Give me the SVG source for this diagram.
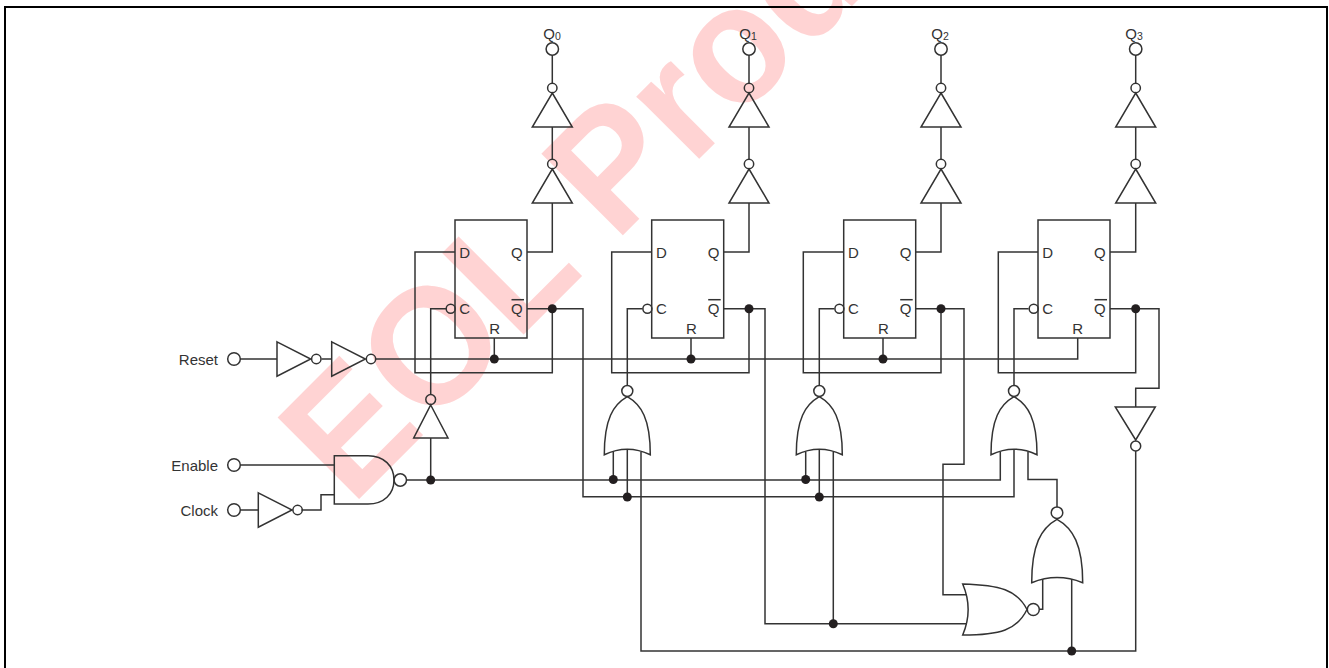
<svg xmlns="http://www.w3.org/2000/svg" xmlns:xlink="http://www.w3.org/1999/xlink" width="1329" height="668" viewBox="0 0 1329 668">
<style>
.w{fill:none;stroke:#333;stroke-width:1.5}
.g{fill:none;stroke:#333;stroke-width:1.5;stroke-linejoin:miter}
.j{fill:#231f20;stroke:none}
.t{font-family:"Liberation Sans",Arial,sans-serif;font-size:15px;fill:#333}
.s{font-size:10.5px}
.wm{font-family:"Liberation Sans",Arial,sans-serif;font-weight:bold;font-size:161px;fill:#ffd3d3}
</style>
<defs>
<g id="ff">
<rect class="g" x="455" y="220" width="72" height="118"/>
<circle class="g" cx="450.7" cy="308.7" r="4.5"/>
<line class="g" x1="511.5" y1="299.7" x2="524" y2="299.7"/>
<text class="t" x="459.3" y="258">D</text>
<text class="t" x="511" y="258">Q</text>
<text class="t" x="459.3" y="314">C</text>
<text class="t" x="511" y="314">Q</text>
<text class="t" x="489.3" y="334">R</text>
</g>
<g id="invup">
<path class="g" d="M0,5 L20,39 H-20 Z"/>
<circle class="g" cx="0" cy="0" r="4.7"/>
</g>
<path id="nor" class="g" d="M0,0 C-14,8 -23,22 -23,58 Q0,47 23,58 C23,22 14,8 0,0 Z"/>
<g id="invright">
<path class="g" d="M0,-17.2 L33.7,0 L0,17.2 Z"/>
<circle class="g" cx="39.3" cy="0" r="4.7"/>
</g>
</defs>

<g id="watermark"><text class="wm" transform="translate(351.6 506.4) rotate(-45) scale(1 1.04)">EOL Product</text></g>

<rect id="frame" x="5" y="7" width="1322" height="670" fill="none" stroke="#000" stroke-width="2"/>

<g id="connectors">
<path class="w" d="M240,359 H277 M321.5,359 H332 M375.5,359 H1077.7 V338"/>
<path class="w" d="M494.3,338 V359 M691,338 V359 M883,338 V359"/>
<path class="w" d="M240.5,465 H334.3 M240.5,510 H258.3 M301.5,510 H321 V494.7 H334.3"/>
<path class="w" d="M406.5,480 H1000.3 V452 M430.7,438 V480 M430.7,394.8 V308.7 H446"/>
<path class="w" d="M627.3,386 V308.7 H642.6 M819.3,386 V308.7 H834.3 M1014,386 V308.7 H1028.6"/>
<path class="w" d="M455,252 H415 V372.7 H552.3 V308.7 M527,252 H552.3 V203 M527,308.7 H583 V496.7 H1014 V450"/>
<path class="w" d="M651.7,252 H611.7 V372.7 H749 V308.7 M723.7,252 H749 V203 M723.7,308.7 H765 V623.7 H967"/>
<path class="w" d="M843.7,252 H803.3 V372.7 H941 V308.7 M915.7,252 H941 V203 M915.7,308.7 H964 V464.3 H943 V594.7 H967"/>
<path class="w" d="M1038,252 H998.3 V372.7 H1135.7 V308.7 M1110,252 H1135.7 V203 M1110,308.7 H1159 V388.3 H1135.7 V407 M1135.7,451 V651 H641 V452"/>
<path class="w" d="M613.3,479.5 V452 M627.3,497 V450 M805.7,479.5 V452 M819.3,497 V450 M833.3,452 V623.7"/>
<path class="w" d="M1028,452 V479.5 H1057 V507 M1042.7,579 V609.3 H1039.3 M1071.7,579 V651"/>
<path class="w" d="M552.3,55 V83.3 M552.3,127 V159.3 M749,55 V83.3 M749,127 V159.3 M941,55 V83.3 M941,127 V159.3 M1135.7,55 V83.3 M1135.7,127 V159.3"/>
<g>
<circle class="j" cx="494.3" cy="359" r="4.5"/><circle class="j" cx="691" cy="359" r="4.5"/><circle class="j" cx="883" cy="359" r="4.5"/>
<circle class="j" cx="552.3" cy="308.7" r="4.5"/><circle class="j" cx="749" cy="308.7" r="4.5"/><circle class="j" cx="941" cy="308.7" r="4.5"/><circle class="j" cx="1135.7" cy="308.7" r="4.5"/>
<circle class="j" cx="430.7" cy="480" r="4.5"/><circle class="j" cx="613.3" cy="479.5" r="4.5"/><circle class="j" cx="805.7" cy="479.5" r="4.5"/>
<circle class="j" cx="627.3" cy="497" r="4.5"/><circle class="j" cx="819.3" cy="497" r="4.5"/>
<circle class="j" cx="833.3" cy="623.7" r="4.5"/><circle class="j" cx="1071.7" cy="651" r="4.5"/>
</g>
</g>

<g id="in-reset"><text class="t" x="218" y="364.5" text-anchor="end">Reset</text><circle class="g" cx="234" cy="359" r="6.3"/></g>
<g id="in-enable"><text class="t" x="218" y="470.5" text-anchor="end">Enable</text><circle class="g" cx="234" cy="465" r="6.3"/></g>
<g id="in-clock"><text class="t" x="218" y="515.5" text-anchor="end">Clock</text><circle class="g" cx="234" cy="510" r="6.3"/></g>
<g id="inv-reset1"><use xlink:href="#invright" x="277" y="359"/></g>
<g id="inv-reset2"><use xlink:href="#invright" x="331.7" y="359"/></g>
<g id="inv-clock"><use xlink:href="#invright" x="258.3" y="510"/></g>
<g id="inv-c"><path class="g" d="M430.7,405 L448,438 H413.7 Z"/><circle class="g" cx="430.7" cy="399.5" r="4.9"/></g>
<g id="nand"><path class="g" d="M334.3,455.7 H368 C384,455.7 394,466 394,480 C394,494 384,504 368,504 H334.3 Z"/><circle class="g" cx="400.3" cy="480" r="6.2"/></g>

<g id="ff0"><use xlink:href="#ff"/></g>
<g id="ff1"><use xlink:href="#ff" x="196.7"/></g>
<g id="ff2"><use xlink:href="#ff" x="388.7"/></g>
<g id="ff3"><use xlink:href="#ff" x="583"/></g>

<g id="q0-out"><text class="t" x="543.3" y="38.5">Q<tspan class="s" dy="1.5">0</tspan></text><circle class="g" cx="552.3" cy="49" r="6.2"/></g>
<g id="q1-out"><text class="t" x="739.3" y="38.5">Q<tspan class="s" dy="1.5">1</tspan></text><circle class="g" cx="749" cy="49" r="6.2"/></g>
<g id="q2-out"><text class="t" x="931.3" y="38.5">Q<tspan class="s" dy="1.5">2</tspan></text><circle class="g" cx="941" cy="49" r="6.2"/></g>
<g id="q3-out"><text class="t" x="1125.3" y="38.5">Q<tspan class="s" dy="1.5">3</tspan></text><circle class="g" cx="1135.7" cy="49" r="6.2"/></g>
<g id="inv-q0a"><use xlink:href="#invup" x="552.3" y="88"/></g>
<g id="inv-q0b"><use xlink:href="#invup" x="552.3" y="164"/></g>
<g id="inv-q1a"><use xlink:href="#invup" x="749" y="88"/></g>
<g id="inv-q1b"><use xlink:href="#invup" x="749" y="164"/></g>
<g id="inv-q2a"><use xlink:href="#invup" x="941" y="88"/></g>
<g id="inv-q2b"><use xlink:href="#invup" x="941" y="164"/></g>
<g id="inv-q3a"><use xlink:href="#invup" x="1135.7" y="88"/></g>
<g id="inv-q3b"><use xlink:href="#invup" x="1135.7" y="164"/></g>
<g id="inv-fb"><path class="g" d="M1115.3,407 H1155.3 L1135.7,440 Z"/><circle class="g" cx="1135.7" cy="446" r="5"/></g>

<g id="nor0"><use xlink:href="#nor" x="627.3" y="396.7"/><circle class="g" cx="627.3" cy="391" r="5.5"/></g>
<g id="nor1"><use xlink:href="#nor" x="819.3" y="396.7"/><circle class="g" cx="819.3" cy="391" r="5.5"/></g>
<g id="nor2"><use xlink:href="#nor" x="1014" y="396.7"/><circle class="g" cx="1014" cy="391" r="5.5"/></g>
<g id="nor3"><path class="g" d="M1057,519.3 C1041,528 1031.7,545 1031.7,582.7 Q1057,572.5 1082.7,582.7 C1082.7,545 1073,528 1057,519.3 Z"/><circle class="g" cx="1057" cy="512.7" r="5.8"/></g>
<g id="nor4"><path class="g" d="M962.7,584 C1000,585 1017,590 1027,609.5 C1017,630 1000,635 962.7,635 Q973.6,609.5 962.7,584 Z"/><circle class="g" cx="1033.3" cy="609.5" r="6"/></g>
</svg>
